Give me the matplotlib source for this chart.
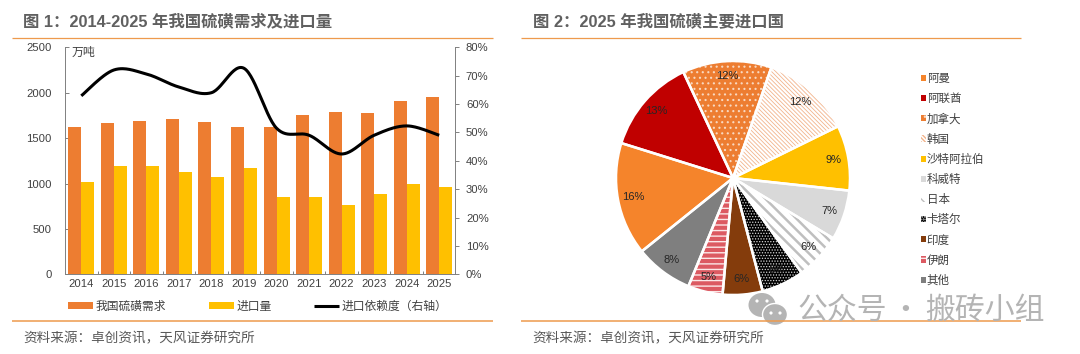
import numpy as np
import matplotlib
matplotlib.use("Agg")
import matplotlib.pyplot as plt
from matplotlib.patches import Ellipse
from matplotlib.ticker import PercentFormatter

plt.rcParams['font.family'] = ['Liberation Sans', 'Noto Sans CJK SC', 'DejaVu Sans']

years = ['2014','2015','2016','2017','2018','2019','2020','2021','2022','2023','2024','2025']
demand = [1626,1667,1689,1711,1681,1626,1619,1755,1784,1777,1909,1949]
imports = [1021,1193,1193,1123,1076,1171,848,848,760,885,995,962]
dependence = [62.9,72.0,70.6,66.0,64.0,72.6,51.5,49.0,42.4,49.0,52.3,49.0]

countries = ['阿曼','阿联酋','加拿大','韩国','沙特阿拉伯','科威特','日本','卡塔尔','印度','伊朗','其他']
shares = [15.6,13.2,12.3,12.4,9.0,6.9,6.4,5.9,5.5,4.8,8.0]

TEXT = '#404040'
TITLE = '#606060'
RULE = '#ee9a4d'
W, H = 1080, 354

fig = plt.figure(figsize=(W/100, H/100), dpi=100, facecolor='white')

def box(x0, y0, x1, y1):
    return [x0/W, 1-y1/H, (x1-x0)/W, (y1-y0)/H]

# ---------- left chart ----------
ax = fig.add_axes(box(65, 47.3, 455.5, 274.3))
x = np.arange(len(years))
bw = 0.4
b1 = ax.bar(x-bw/2, demand, bw, color='#ED7D31', label='我国硫磺需求', zorder=2)
b2 = ax.bar(x+bw/2, imports, bw, color='#FFC000', label='进口量', zorder=2)
ax.set_xlim(-0.5, 11.5)
ax.set_ylim(0, 2500)
ax.set_yticks(range(0, 2501, 500))
ax.set_xticks(x)
ax.set_xticklabels(years)
ax.set_xticks(np.arange(-0.5, 12), minor=True)
ax.tick_params(axis='x', which='major', length=0, pad=3.5, labelsize=8.1, labelcolor=TEXT)
ax.tick_params(axis='x', which='minor', direction='in', length=2.5, width=0.7, color='#808080')
ax.tick_params(axis='y', direction='in', length=3, width=0.7, color='#808080', pad=9.4,
               labelsize=8.1, labelcolor=TEXT)
ax.spines['top'].set_visible(False)
ax.spines['right'].set_visible(False)
for s in ('left', 'bottom'):
    ax.spines[s].set_color('#808080')
    ax.spines[s].set_linewidth(0.7)

ax2 = ax.twinx()
ax2.set_ylim(0, 80)
ax2.set_yticks(range(0, 81, 10))
ax2.yaxis.set_major_formatter(PercentFormatter(decimals=0))
ax2.tick_params(axis='y', direction='out', length=3, width=0.7, color='#808080', pad=4.5,
                labelsize=8.1, labelcolor=TEXT)
for s in ('top', 'left', 'bottom'):
    ax2.spines[s].set_visible(False)
ax2.spines['right'].set_color('#808080')
ax2.spines['right'].set_linewidth(0.7)

def smooth_curve(xs, ys, n=30):
    """Excel-like smoothed line through the points (cubic Bezier segments)."""
    p = np.column_stack([xs, ys]).astype(float)
    q = np.vstack([p[0], p, p[-1]])
    t = np.linspace(0, 1, n)
    out = []
    for i in range(len(p)-1):
        a, d = q[i+1], q[i+2]
        b = a + (q[i+2]-q[i])/6
        c = d - (q[i+3]-q[i+1])/6
        out.append(np.outer((1-t)**3, a) + np.outer(3*(1-t)**2*t, b)
                   + np.outer(3*(1-t)*t**2, c) + np.outer(t**3, d))
    return np.vstack(out)

curve = smooth_curve(x, dependence)
ln, = ax2.plot(curve[:, 0], curve[:, 1], color='black', lw=2.2, label='进口依赖度（右轴）', zorder=5,
               solid_capstyle='butt')
ax2.set_zorder(ax.get_zorder()+1)

fig.legend(handles=[b1, b2, ln], loc='center left', bbox_to_anchor=(68/W, 1-306.5/H), ncol=3,
           frameon=False, fontsize=8.5, labelcolor=TEXT, handlelength=2.1, handleheight=0.55,
           handletextpad=0.25, columnspacing=3.6, borderpad=0, borderaxespad=0)

# ---------- right chart ----------
pie_ax = fig.add_axes(box(733-117, 178-117, 733+117, 178+117))
face = ['#F5842B','#C00000','#ED7D31','white','#FFC000','#D9D9D9','white','black','#843C0C','#DC5A62','#7F7F7F']
hatch_col = ['#F5842B','#C00000','#F8D8C0','#F2B48C','#FFC000','#D9D9D9','#BFBFBF','#D8D8D8','#843C0C','#FBE8E8','#7F7F7F']
hatches = [None,None,'...','\\\\\\\\\\\\\\\\',None,None,'\\\\\\','......',None,'---',None]
hatch_lw = [1,1,0.8,0.6,1,1,1.8,0.6,1,1.0,1]
wedges, _, autos = pie_ax.pie(shares, startangle=218.8, counterclock=False, radius=1,
                              labels=None, autopct='%.0f%%', pctdistance=0.87,
                              colors=face, textprops=dict(fontsize=8, color='#262626'))
for w, hc, h, hl in zip(wedges, hatch_col, hatches, hatch_lw):
    w.set_edgecolor(hc)
    w.set_linewidth(0)
    if h:
        w.set_hatch(h)
        w.set_hatch_linewidth(hl)
seps, _ = pie_ax.pie(shares, startangle=218.8, counterclock=False, radius=1)
for s in seps:
    s.set_facecolor('none')
    s.set_edgecolor('white')
    s.set_linewidth(1.8)
    s.set_zorder(wedges[0].get_zorder()+0.5)
for a in autos:
    a.set_zorder(5)
pie_ax.set_xlim(-1.0, 1.0)
pie_ax.set_ylim(-1.0, 1.0)

fig.legend(handles=wedges, labels=countries, loc='upper left', bbox_to_anchor=(920.5/W, 1-73/H),
           ncol=1, frameon=False, fontsize=8.3, labelcolor=TEXT, handlelength=0.45, handleheight=0.45,
           handletextpad=0.1, labelspacing=0.71, borderpad=0, borderaxespad=0)

# ---------- page furniture in pixel coordinates ----------
pg = fig.add_axes([0, 0, 1, 1], zorder=10)
pg.set_xlim(0, W)
pg.set_ylim(H, 0)
pg.axis('off')
pg.patch.set_alpha(0)

for x0, x1 in ((12, 492.5), (521, 1021)):
    pg.plot([x0, x1], [38, 38], color=RULE, lw=0.9, solid_capstyle='butt')
    pg.plot([x0, x1], [321, 321], color=RULE, lw=1.1, solid_capstyle='butt')

pg.text(23, 21, '图 1：2014-2025 年我国硫磺需求及进口量', fontsize=11.8, fontweight='bold',
        color=TITLE, va='center', ha='left')
pg.text(533, 21, '图 2：2025 年我国硫磺主要进口国', fontsize=11.8, fontweight='bold',
        color=TITLE, va='center', ha='left')
pg.text(23, 338, '资料来源：卓创资讯，天风证券研究所', fontsize=9.8, color='#595959', va='center', ha='left')
pg.text(532, 338, '资料来源：卓创资讯，天风证券研究所', fontsize=9.8, color='#595959', va='center', ha='left')
pg.text(72, 52.5, '万吨', fontsize=8.6, color=TEXT, va='center', ha='left')

# watermark
WM = '#b4b4b4'
pg.add_patch(Ellipse((762, 305), 27, 24, fc=WM, ec='none'))
pg.add_patch(Ellipse((775, 314.5), 25, 22, fc=WM, ec='white', lw=1))
for ex, ey in ((757, 301), (767, 301), (771, 313), (780, 313)):
    pg.add_patch(Ellipse((ex, ey), 3.2, 3.2, fc='white', ec='none'))
wm_font = dict(fontsize=21.5, color=WM, va='center', family=['Noto Sans CJK SC', 'DejaVu Sans'],
               fontweight='light')
pg.text(797, 310.5, '公众号', ha='left', **wm_font)
pg.text(905, 310.5, '·', ha='center', **wm_font)
pg.text(925, 310.5, '搬砖小组', ha='left', **wm_font)

fig.savefig('out.png', dpi=100)
